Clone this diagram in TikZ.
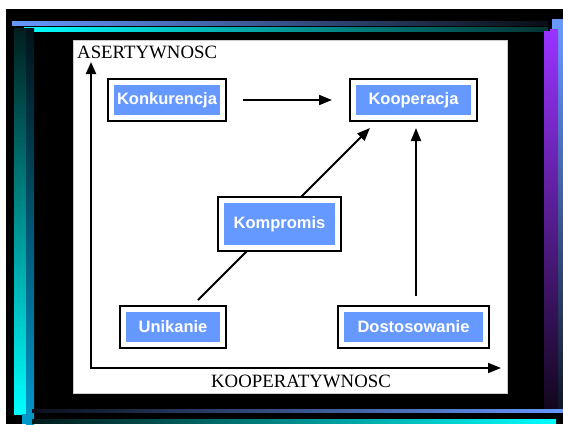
\documentclass[tikz,border=0pt]{standalone}
\usepackage{fontspec}
\setmainfont{Liberation Serif}
\setsansfont{Liberation Sans}
\usetikzlibrary{arrows.meta, calc}

\definecolor{boxblue}{HTML}{6699FF}
\definecolor{barblue}{HTML}{6699FF}
\definecolor{barcyan}{HTML}{00FFFF}
\definecolor{barpurple}{HTML}{9933FF}
\definecolor{bardeep}{HTML}{0099CC}

\tikzset{
  kbox/.style={rectangle, fill=boxblue, text=white,
    font=\sffamily\bfseries\fontsize{16.5}{19}\selectfont,
    draw=white, line width=5pt, preaction={draw=black, line width=9pt},
    outer sep=4.5pt, inner sep=0pt, minimum height=35pt},
  link/.style={line width=2pt, -{Triangle[length=13pt,width=10pt]}},
  axis/.style={line width=2pt, {Triangle[length=12pt,width=10pt]}-{Triangle[length=13pt,width=10pt]}},
  axislabel/.style={font=\fontsize{18.8}{21}\selectfont, inner sep=0pt},
}

\begin{document}
\begin{tikzpicture}[x=1pt, y=-1pt]
  \useasboundingbox (0,0) rectangle (563,424);
  % slide background and bars
  \fill[white] (0,0) rectangle (563,424);
  \fill[black] (6,9) rectangle (563,424);
  \shade[left color=barblue, right color=barblue!8!black] (12,21) rectangle (548,25);
  \shade[left color=barcyan, right color=barcyan!20!black] (24,27) rectangle (548,31);
  \fill[barblue] (552,19) rectangle (563,29);
  \shade[top color=barblue, bottom color=barblue!15!black] (558,29) rectangle (563,408);
  \shade[top color=barpurple, bottom color=barpurple!12!black] (544,31) rectangle (558,408);
  \fill[barpurple] (550,29) rectangle (558,31);
  \shade[top color=barcyan!12!black, bottom color=barcyan] (14,28) rectangle (26,414);
  \shade[top color=bardeep!12!black, bottom color=bardeep] (26,28) rectangle (34,424);
  \fill[bardeep] (22,414) rectangle (26,424);
  \shade[left color=barblue!10!black, right color=barblue] (32,409) rectangle (563,412);
  \shade[left color=barcyan!10!black, right color=barcyan] (32,419) rectangle (556,423);
  % white panel
  \filldraw[fill=white, draw=black!20] (73,40) rectangle (507,393);

  % axes
  \coordinate (origin) at (91,368);
  \coordinate (ytip) at (91,62);
  \coordinate (xtip) at (501,368);
  \draw[axis] (ytip) -- (origin) -- (xtip);
  \node[axislabel, anchor=base west] (asert) at (77,58) {ASERTYWNOSC};
  \node[axislabel, anchor=base] (koopax) at (301,387) {KOOPERATYWNOSC};

  % styles of conflict handling
  \node[kbox, minimum width=111pt] (konk) at (167,100) {Konkurencja};
  \node[kbox, minimum width=120pt] (koop) at (413.5,100) {Kooperacja};
  \node[kbox, minimum width=99pt] (unik) at (173,327) {Unikanie};
  \node[kbox, minimum width=144pt] (dost) at (413.5,327) {Dostosowanie};
  \draw[link] ([xshift=25pt, yshift=5pt]unik.north) -- ([xshift=21pt, yshift=-6pt]koop.south west);
  \node[kbox, minimum width=116pt, minimum height=47pt] (komp) at (279.5,224) {Kompromis};
  \draw[link, shorten <=16pt, shorten >=17pt] (konk) -- (koop);
  \draw[link, shorten <=9pt, shorten >=6pt] ([xshift=2.5pt]dost.north) -- ([xshift=2.5pt]koop.south);
\end{tikzpicture}
\end{document}
